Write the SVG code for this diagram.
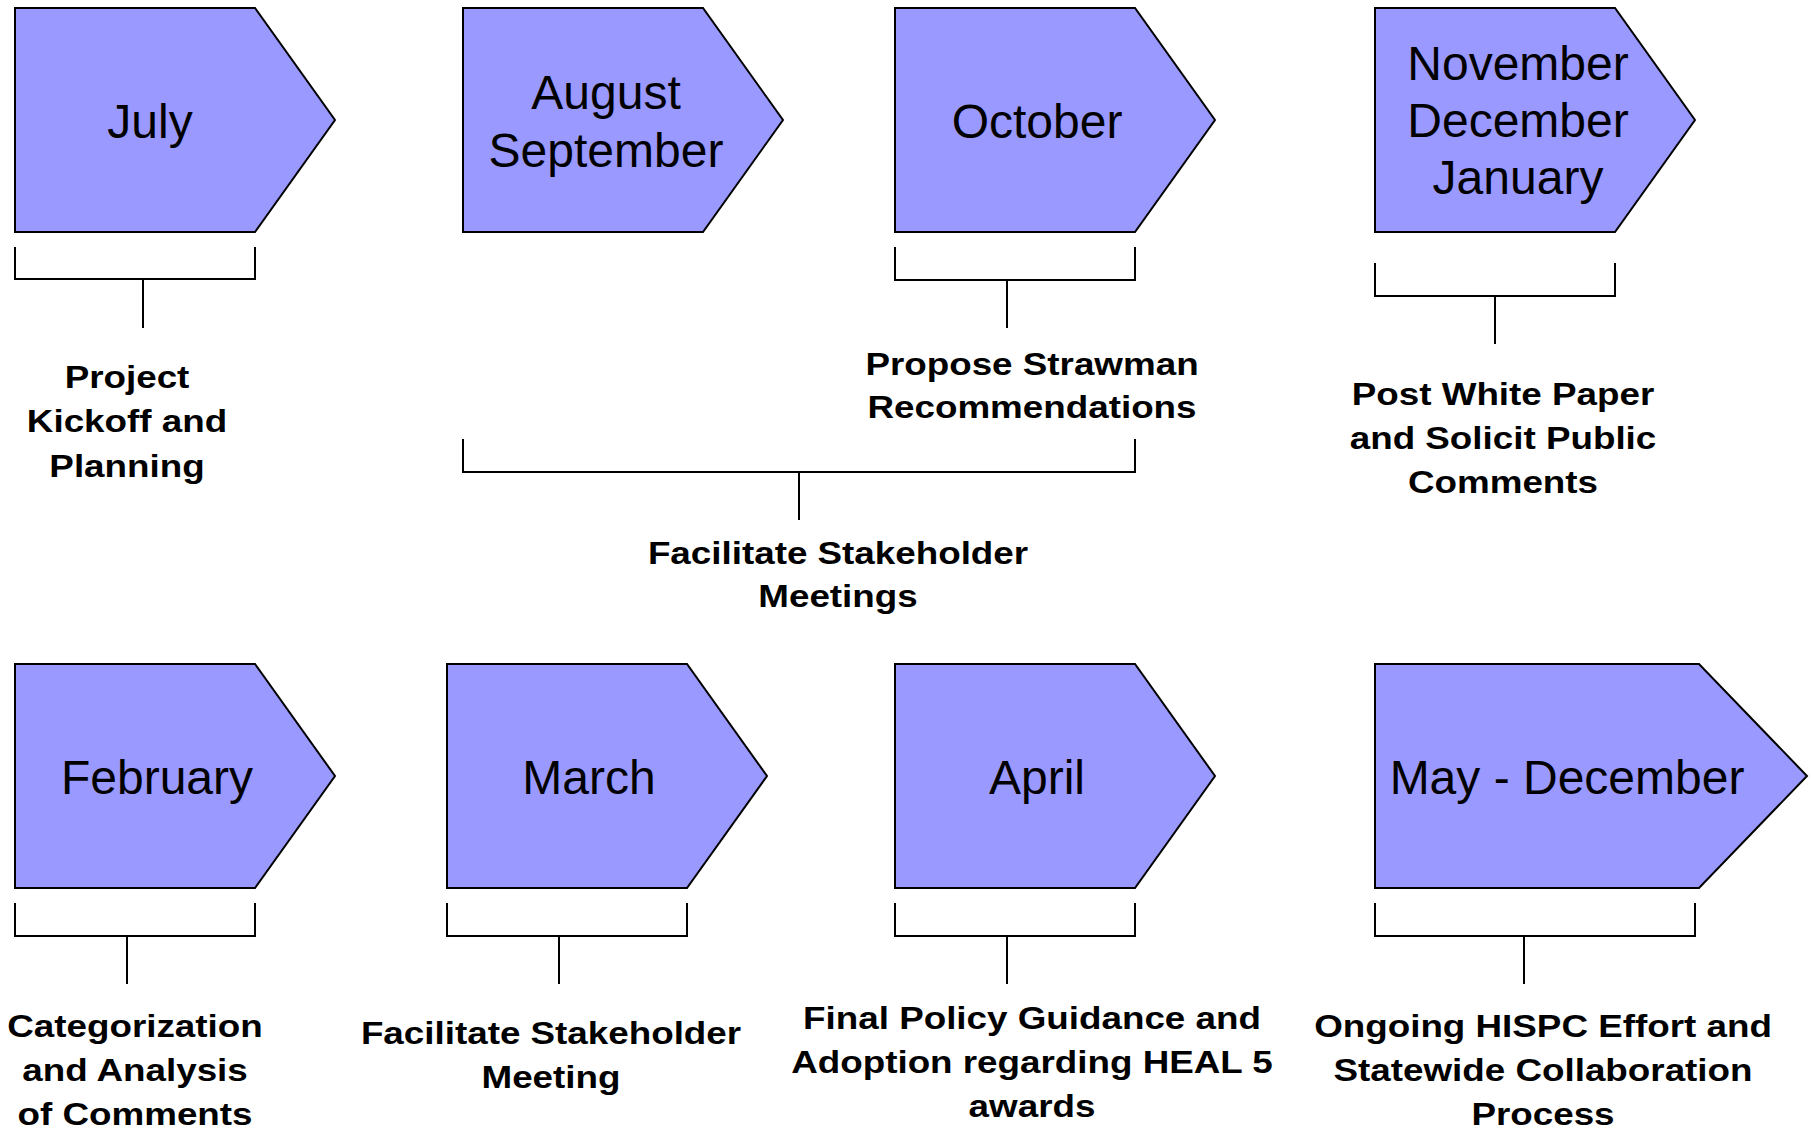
<svg xmlns="http://www.w3.org/2000/svg" width="1814" height="1128" viewBox="0 0 1814 1128">
<style>
.arrow{fill:#9999FF;stroke:#000;stroke-width:2;stroke-linejoin:miter}
.month{font-family:"Liberation Sans",Arial,sans-serif;font-size:48px;fill:#000;text-anchor:middle}
.label{font-family:"Liberation Sans",Arial,sans-serif;font-size:32px;font-weight:bold;fill:#000;text-anchor:middle}
.br{fill:none;stroke:#000;stroke-width:2}
</style>
<rect width="1814" height="1128" fill="#fff"/>
<g id="july">
<path class="arrow" d="M15 8 H255 L335 120 L255 232 H15 Z"/>
<text class="month" x="150" y="138">July</text>
</g>
<g id="aug-sep">
<path class="arrow" d="M463 8 H703 L783 120 L703 232 H463 Z"/>
<text class="month"><tspan x="606" y="109">August</tspan><tspan x="606" y="167">September</tspan></text>
</g>
<g id="october">
<path class="arrow" d="M895 8 H1135 L1215 120 L1135 232 H895 Z"/>
<text class="month" x="1037" y="138">October</text>
</g>
<g id="nov-jan">
<path class="arrow" d="M1375 8 H1615 L1695 120 L1615 232 H1375 Z"/>
<text class="month"><tspan x="1518" y="80">November</tspan><tspan x="1518" y="137">December</tspan><tspan x="1518" y="194">January</tspan></text>
</g>
<g id="february">
<path class="arrow" d="M15 664 H255 L335 776 L255 888 H15 Z"/>
<text class="month" x="157" y="794">February</text>
</g>
<g id="march">
<path class="arrow" d="M447 664 H687 L767 776 L687 888 H447 Z"/>
<text class="month" x="589" y="794">March</text>
</g>
<g id="april">
<path class="arrow" d="M895 664 H1135 L1215 776 L1135 888 H895 Z"/>
<text class="month" x="1037" y="794">April</text>
</g>
<g id="may-dec">
<path class="arrow" d="M1375 664 H1699 L1807 776 L1699 888 H1375 Z"/>
<text class="month" x="1567" y="794">May - December</text>
</g>
<g id="connectors">
<path class="br" d="M15 247 V279 H255 V247 M143 279 V328"/>
<path class="br" d="M895 247 V280 H1135 V247 M1007 280 V328"/>
<path class="br" d="M1375 263 V296 H1615 V263 M1495 296 V344"/>
<path class="br" d="M463 439 V472 H1135 V439 M799 472 V520"/>
<path class="br" d="M15 903 V936 H255 V903 M127 936 V984"/>
<path class="br" d="M447 903 V936 H687 V903 M559 936 V984"/>
<path class="br" d="M895 903 V936 H1135 V903 M1007 936 V984"/>
<path class="br" d="M1375 903 V936 H1695 V903 M1524 936 V984"/>
</g>
<g id="label-kickoff">
<text class="label" transform="translate(127 0) scale(1.15 1)"><tspan x="0" y="388">Project</tspan><tspan x="0" y="432.5">Kickoff and</tspan><tspan x="0" y="477">Planning</tspan></text>
</g>
<g id="label-strawman">
<text class="label" transform="translate(1032 0) scale(1.15 1)"><tspan x="0" y="375">Propose Strawman</tspan><tspan x="0" y="418">Recommendations</tspan></text>
</g>
<g id="label-whitepaper">
<text class="label" transform="translate(1503 0) scale(1.15 1)"><tspan x="0" y="405">Post White Paper</tspan><tspan x="0" y="449">and Solicit Public</tspan><tspan x="0" y="493">Comments</tspan></text>
</g>
<g id="label-meetings">
<text class="label" transform="translate(838 0) scale(1.15 1)"><tspan x="0" y="564">Facilitate Stakeholder</tspan><tspan x="0" y="607">Meetings</tspan></text>
</g>
<g id="label-categorization">
<text class="label" transform="translate(135 0) scale(1.15 1)"><tspan x="0" y="1037">Categorization</tspan><tspan x="0" y="1081">and Analysis</tspan><tspan x="0" y="1125">of Comments</tspan></text>
</g>
<g id="label-meeting">
<text class="label" transform="translate(551 0) scale(1.15 1)"><tspan x="0" y="1044">Facilitate Stakeholder</tspan><tspan x="0" y="1088">Meeting</tspan></text>
</g>
<g id="label-policy">
<text class="label" transform="translate(1032 0) scale(1.15 1)"><tspan x="0" y="1029">Final Policy Guidance and</tspan><tspan x="0" y="1073">Adoption regarding HEAL 5</tspan><tspan x="0" y="1117">awards</tspan></text>
</g>
<g id="label-hispc">
<text class="label" transform="translate(1543 0) scale(1.15 1)"><tspan x="0" y="1037">Ongoing HISPC Effort and</tspan><tspan x="0" y="1081">Statewide Collaboration</tspan><tspan x="0" y="1125">Process</tspan></text>
</g>
</svg>
